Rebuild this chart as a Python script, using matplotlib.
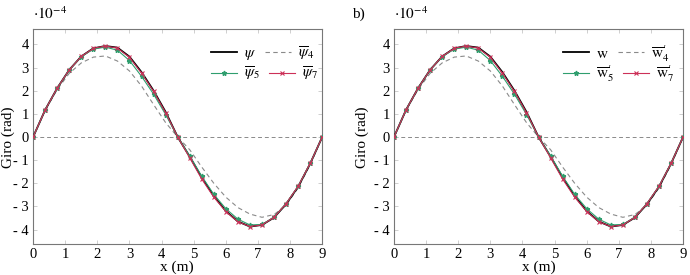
import matplotlib.pyplot as plt

plt.rcParams['font.family'] = ['Liberation Serif', 'DejaVu Serif']
plt.rcParams['mathtext.fontset'] = 'stix'

# positions along the beam (m)
x_m = [0, 0.375, 0.75, 1.125, 1.5, 1.875, 2.25, 2.625, 3.0, 3.375, 3.75, 4.125,
       4.5, 4.875, 5.25, 5.625, 6.0, 6.375, 6.75, 7.125, 7.5, 7.875, 8.25, 8.625, 9.0]

# rotation values (x 1e-4 rad)
psi = [0, 1.17, 2.11, 2.9, 3.48, 3.83, 3.93, 3.86, 3.47, 2.8, 2.0, 1.08,
       0, -0.85, -1.75, -2.55, -3.2, -3.65, -3.87, -3.8, -3.48, -2.9, -2.15, -1.15, 0]
psi4 = [0, 1.15, 2.05, 2.75, 3.2, 3.45, 3.5, 3.28, 2.85, 2.2, 1.4, 0.62,
        0, -0.55, -1.3, -2.0, -2.6, -3.05, -3.33, -3.47, -3.35, -2.95, -2.2, -1.2, 0]
psi5 = [0, 1.17, 2.1, 2.9, 3.47, 3.8, 3.88, 3.75, 3.3, 2.62, 1.85, 0.97,
        0, -0.82, -1.7, -2.48, -3.1, -3.55, -3.8, -3.78, -3.47, -2.88, -2.13, -1.14, 0]
psi7 = [0, 1.17, 2.11, 2.9, 3.48, 3.83, 3.93, 3.84, 3.44, 2.76, 1.97, 1.05,
        0, -0.9, -1.82, -2.6, -3.22, -3.66, -3.87, -3.8, -3.47, -2.88, -2.13, -1.14, 0]

x_ticks = [0, 1, 2, 3, 4, 5, 6, 7, 8, 9]
y_ticks = [-4, -3, -2, -1, 0, 1, 2, 3, 4]
y_tick_labels = ['- 4', '- 3', '- 2', '- 1', '0', '1', '2', '3', '4']

labels_a = [r'$\psi$', r'$\overline{\psi}_4$', r'$\overline{\psi}_5$', r'$\overline{\psi}_7$']
labels_b = [r'$\mathrm{w}$', r'$\overline{\mathrm{w}}^{\prime}_{4}$',
            r'$\overline{\mathrm{w}}^{\prime}_{5}$', r'$\overline{\mathrm{w}}^{\prime}_{7}$']

GREEN = '#2f9e6e'
RED = '#cc3058'
GRAY = '#8a8a8a'

fig = plt.figure(figsize=(6.9, 2.75), dpi=100)


def draw_panel(ax, labels, leg_x):
    ax.axhline(0, color=GRAY, lw=0.7, ls=(0, (4, 3)), zorder=1)
    l1, = ax.plot(x_m, psi, color='black', lw=1.3, zorder=3)
    l4, = ax.plot(x_m, psi4, color=GRAY, lw=0.8, ls=(0, (4, 3)), zorder=2)
    l5, = ax.plot(x_m, psi5, color=GREEN, lw=0.8, marker='*', ms=3.5, zorder=4)
    l7, = ax.plot(x_m, psi7, color=RED, lw=0.8, marker='x', ms=3, mew=0.8, zorder=5)

    ax.set_xlim(0, 9)
    ax.set_ylim(-4.62, 4.67)
    ax.set_xticks(x_ticks)
    ax.set_yticks(y_ticks)
    ax.set_yticklabels(y_tick_labels)
    ax.tick_params(direction='in', length=3, width=0.6, color='#c8c8c8',
                   top=True, right=True, labelsize=10.5, pad=3)
    for s in ax.spines.values():
        s.set_color('#777777')
        s.set_linewidth(0.8)

    # one legend per row so both rows line up
    kw = dict(ncol=2, frameon=False, loc='center left', fontsize=11,
              handlelength=1.7, handletextpad=0.45, columnspacing=0.6,
              borderpad=0, borderaxespad=0, numpoints=1)
    row1 = ax.legend([l1, l4], [labels[0], labels[1]], bbox_to_anchor=(leg_x, 0.885), **kw)
    ax.add_artist(row1)
    ax.legend([l5, l7], [labels[2], labels[3]], bbox_to_anchor=(leg_x, 0.79), **kw)

    ax.text(0.0, 1.03, r'$\cdot 10^{-4}$', transform=ax.transAxes, fontsize=11,
            ha='left', va='bottom')


ax1 = fig.add_axes([0.048, 0.113, 0.419, 0.782])
draw_panel(ax1, labels_a, 0.615)
ax2 = fig.add_axes([0.571, 0.113, 0.419, 0.782])
draw_panel(ax2, labels_b, 0.585)

for xc in [177, 539]:
    fig.text(xc / 690, 1 - 267 / 275, 'x (m)', ha='center', va='center', fontsize=11)
fig.text(8 / 690, 0.5, 'Giro (rad)', rotation=90, ha='center', va='center', fontsize=11)
fig.text(362 / 690, 0.5, 'Giro (rad)', rotation=90, ha='center', va='center', fontsize=11)
fig.text(352 / 690, 1 - 14 / 275, 'b)', ha='left', va='center', fontsize=11)

fig.savefig('out.png', dpi=100)
